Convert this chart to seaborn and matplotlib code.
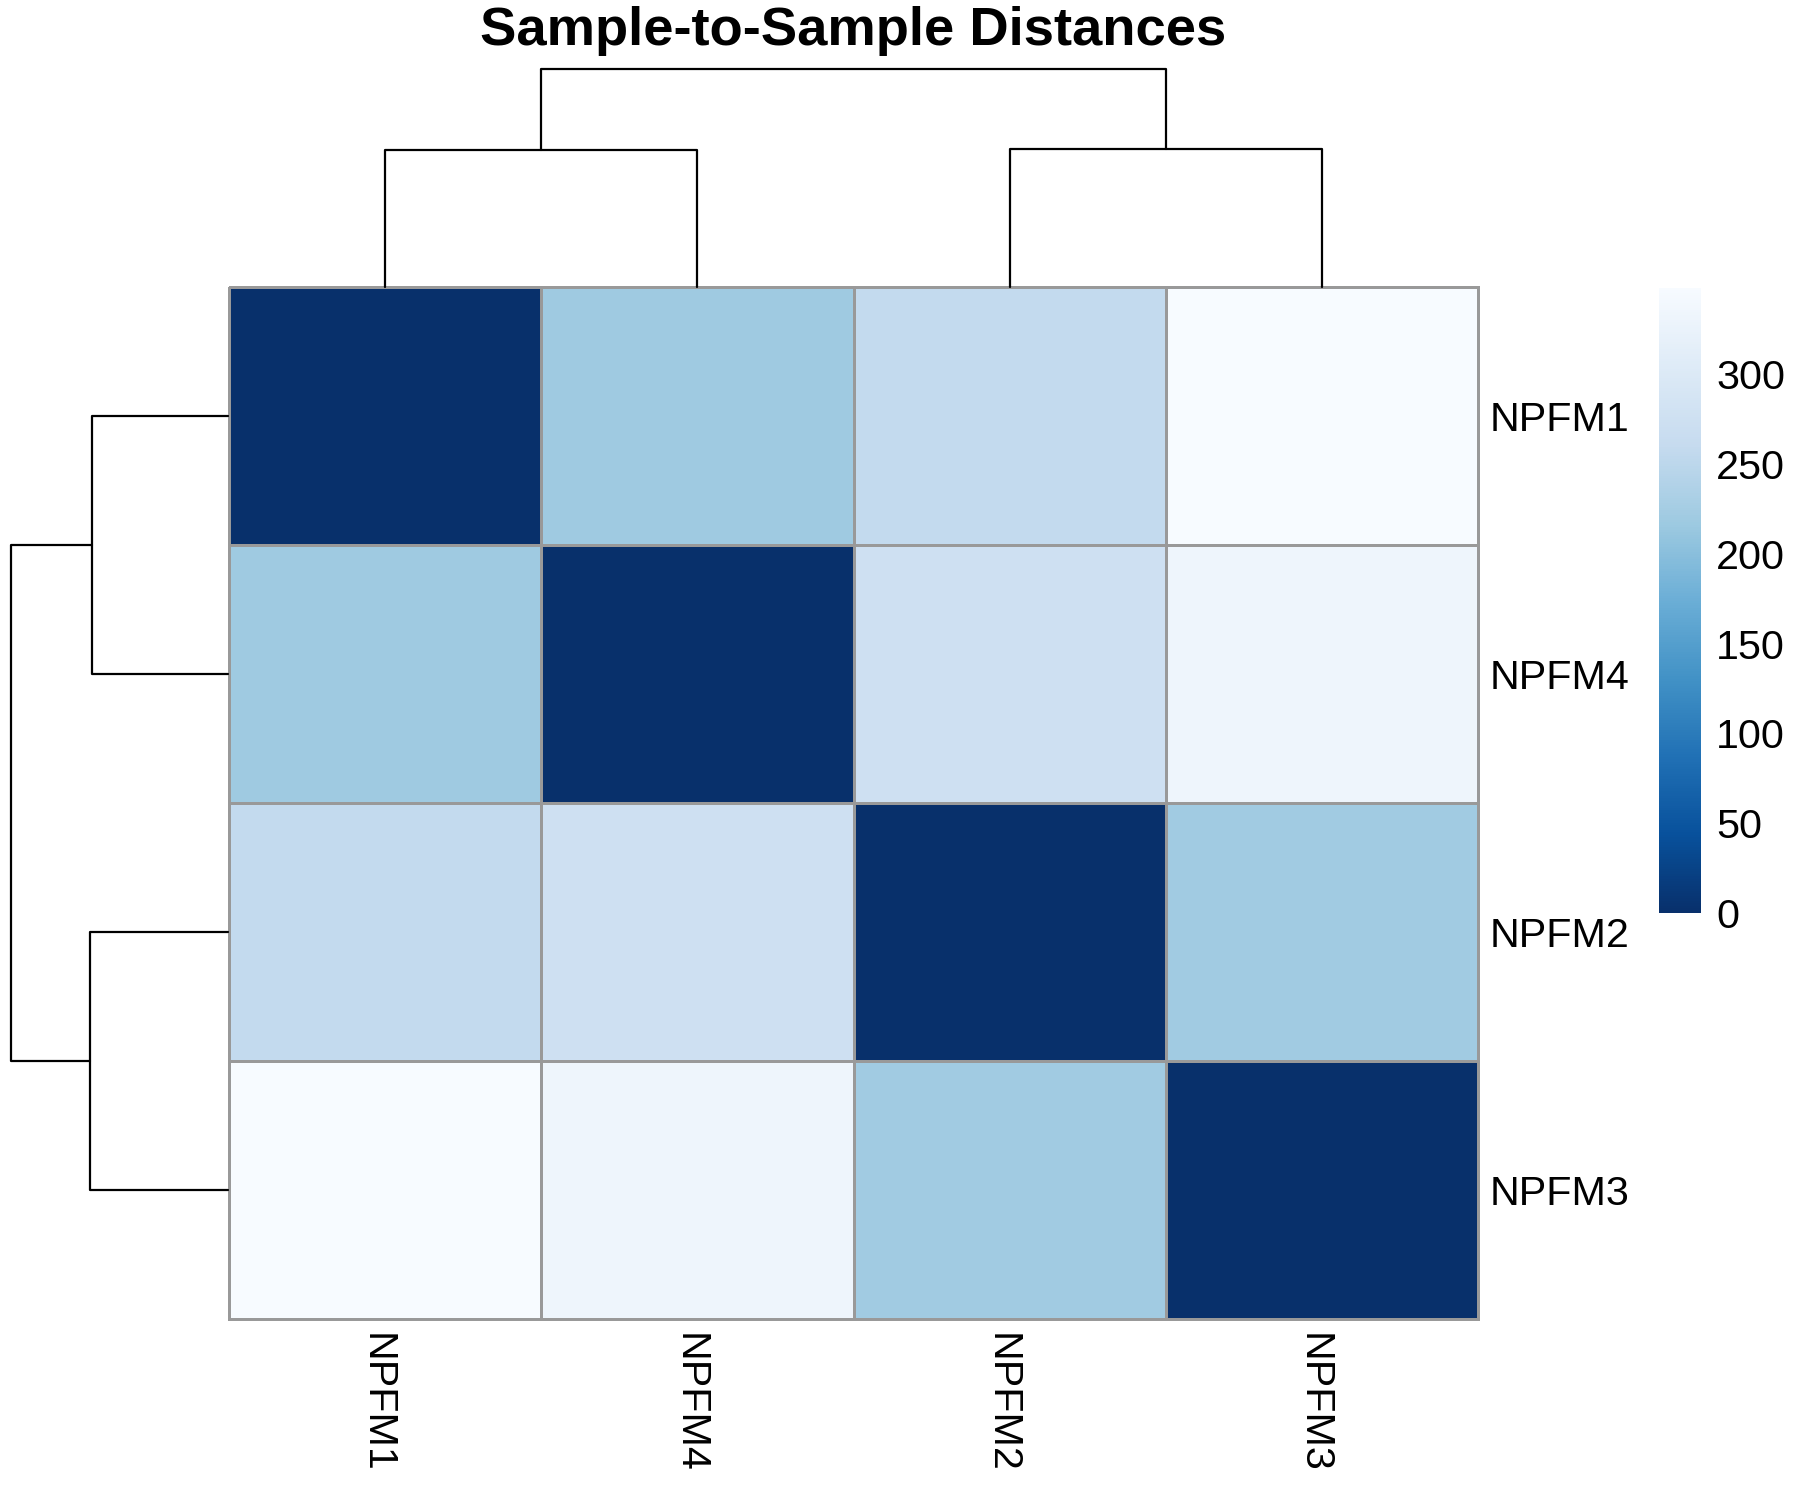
import numpy as np
import pandas as pd
import matplotlib
matplotlib.use("Agg")
import matplotlib.pyplot as plt
import matplotlib.transforms as mtransforms
import seaborn as sns

# sample order as shown (already clustered)
samples = ["NPFM1", "NPFM4", "NPFM2", "NPFM3"]
dist_values = [
    [0, 218, 258, 348],
    [218, 0, 275, 331],
    [258, 275, 0, 221],
    [348, 331, 221, 0],
]
cbar_ticks = [0, 50, 100, 150, 200, 250, 300]
title = "Sample-to-Sample Distances"

df = pd.DataFrame(dist_values, index=samples, columns=samples)


def complete_linkage(d):
    # simple agglomerative clustering, returns the dendrogram segments
    d = np.array(d, dtype=float)
    clusters = {i: ([i], i + 0.5, 0.0) for i in range(len(d))}
    segs = []
    next_id = len(d)
    while len(clusters) > 1:
        keys = list(clusters)
        best = None
        for a in range(len(keys)):
            for b in range(a + 1, len(keys)):
                ma, mb = clusters[keys[a]][0], clusters[keys[b]][0]
                h = max(d[i, j] for i in ma for j in mb)
                if best is None or h < best[0]:
                    best = (h, keys[a], keys[b])
        h, ka, kb = best
        ma, xa, ha = clusters.pop(ka)
        mb, xb, hb = clusters.pop(kb)
        segs.append(([xa, xa, xb, xb], [ha, h, h, hb]))
        clusters[next_id] = (ma + mb, (xa + xb) / 2, h)
        next_id += 1
    return segs


segs = complete_linkage(dist_values)
max_h = max(max(s[1]) for s in segs)

sns.set_style("white")
plt.rcParams["font.family"] = ["Liberation Sans", "DejaVu Sans"]
plt.rcParams["text.color"] = "black"
plt.rcParams["xtick.color"] = "black"
plt.rcParams["ytick.color"] = "black"

W, H = 1800, 1500
fig = plt.figure(figsize=(18, 15), dpi=100)


def px_axes(x0, y0, x1, y1):
    return fig.add_axes([x0 / W, 1 - y1 / H, (x1 - x0) / W, (y1 - y0) / H])


ax_hm = px_axes(229, 287, 1478, 1319)
ax_col = px_axes(229, 69, 1478, 287)
ax_row = px_axes(11, 287, 228, 1319)
ax_cb = px_axes(1659, 288, 1701, 913)

fs = 29.7
sns.heatmap(df, ax=ax_hm, cmap="Blues_r", vmin=0, vmax=df.values.max(),
            linewidths=2, linecolor="#999999", cbar_ax=ax_cb,
            cbar_kws={"ticks": cbar_ticks})
ax_hm.collections[0].set_clip_on(False)
ax_hm.yaxis.tick_right()
ax_hm.set_xlabel("")
ax_hm.set_ylabel("")
ax_hm.tick_params(axis="y", length=0, labelsize=fs, pad=8.7, colors="black")
ax_hm.tick_params(axis="x", length=0, labelsize=fs, pad=10, colors="black")

# nudge column labels so the capitals sit centred on the cells
left = mtransforms.ScaledTranslation(-0.2 * fs / 72, 0, fig.dpi_scale_trans)
for lab in ax_hm.get_yticklabels():
    lab.set_rotation(0)
    lab.set_ha("left")
for lab in ax_hm.get_xticklabels():
    lab.set_rotation(270)
    lab.set_ha("center")
    lab.set_va("top")
    lab.set_transform(lab.get_transform() + left)

cb = ax_hm.collections[0].colorbar
cb.outline.set_visible(False)
cb.ax.tick_params(length=0, labelsize=fs, pad=11, colors="black")

# column dendrogram
for xs, ys in segs:
    ax_col.plot(xs, ys, color="black", lw=1.6, clip_on=False)
ax_col.set_xlim(0, len(samples))
ax_col.set_ylim(0, max_h)
ax_col.axis("off")

# row dendrogram
for xs, ys in segs:
    ax_row.plot(ys, xs, color="black", lw=1.6, clip_on=False)
ax_row.set_ylim(len(samples), 0)
ax_row.set_xlim(max_h, 0)
ax_row.axis("off")

fig.text(853 / W, 1 - 31 / H, title, ha="center", va="center",
         fontsize=39.2, fontweight="bold", color="black")

fig.savefig("out.png", dpi=100)
